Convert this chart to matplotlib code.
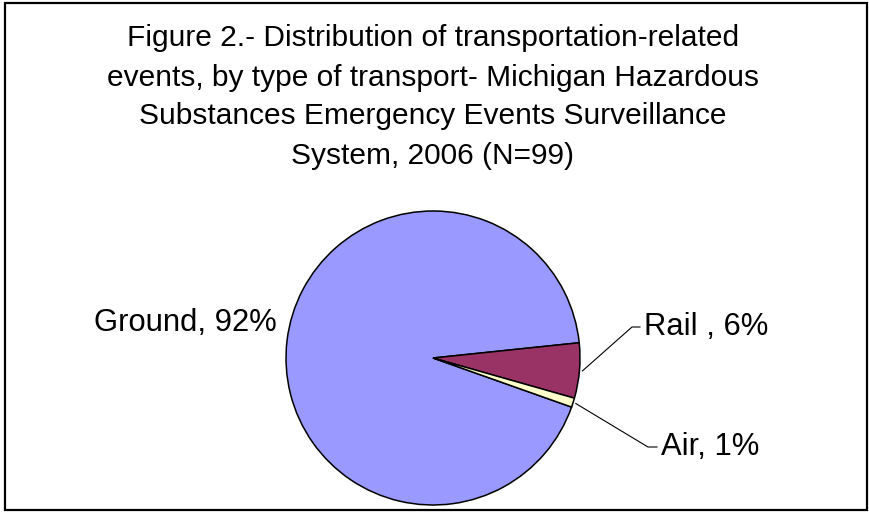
import numpy as np
import matplotlib
matplotlib.use("Agg")
import matplotlib.pyplot as plt
import matplotlib.patches as mpatches
import matplotlib.lines as mlines

# data
categories = ["Ground", "Rail ", "Air"]
percents = [92, 6, 1]
colors = ["#9999FF", "#993366", "#FFFFCC"]
title_lines = ["Figure 2.- Distribution of transportation-related",
               "events, by type of transport- Michigan Hazardous",
               "Substances Emergency Events Surveillance",
               "System, 2006 (N=99)"]

plt.rcParams['font.family'] = ['Liberation Sans', 'DejaVu Sans']

W, H = 870, 512
fig = plt.figure(figsize=(W / 100, H / 100), dpi=100)
fig.patch.set_facecolor("white")

# outer border of the chart area
border = mpatches.Rectangle((5 / W, 2 / H), 862 / W, 507 / H, transform=fig.transFigure,
                            fill=False, edgecolor="black", linewidth=1.6)
fig.patches.append(border)

# title, 4 centred lines
fig.text(433 / W, 1 - 97 / H, "\n".join(title_lines), ha="center", va="center",
         fontsize=21.5, linespacing=1.5, color="black")

# pie axes: centre (433, 358) px, radius 147 px
cx, cy, r = 433, 358, 147
ax = fig.add_axes([(cx - r) / W, (H - cy - r) / H, 2 * r / W, 2 * r / H])
wedges, _ = ax.pie(percents, colors=colors, startangle=-19.5, counterclock=False,
                   wedgeprops=dict(edgecolor="black", linewidth=1.1))
for w in wedges:
    w.set_clip_on(False)
ax.set_xlim(-1, 1)
ax.set_ylim(-1, 1)
ax.set_aspect("equal")
ax.axis("off")

labels = [f"{c}, {p}%" for c, p in zip(categories, percents)]

# Ground label sits left of the pie, no leader
fig.text(277 / W, 1 - 323 / H, labels[0], ha="right", va="center", fontsize=22.3)

# leaders for the small slices: elbow and stub end in pixels
elbows = [(632, 327), (648, 447)]
stubs = [(640, 327), (657, 447)]
for i in (1, 2):
    w = wedges[i]
    mid = np.deg2rad((w.theta1 + w.theta2) / 2)
    px, py = ax.transData.transform((1.02 * np.cos(mid), 1.02 * np.sin(mid)))
    ex, ey = elbows[i - 1]
    sx, sy = stubs[i - 1]
    line = mlines.Line2D([px, ex, sx], [py, H - ey, H - sy], color="black", linewidth=0.8,
                         transform=None)
    fig.lines.append(line)
    fig.text((sx + 4) / W, 1 - sy / H, labels[i], ha="left", va="center", fontsize=22.3)

fig.savefig("out.png", dpi=100)
